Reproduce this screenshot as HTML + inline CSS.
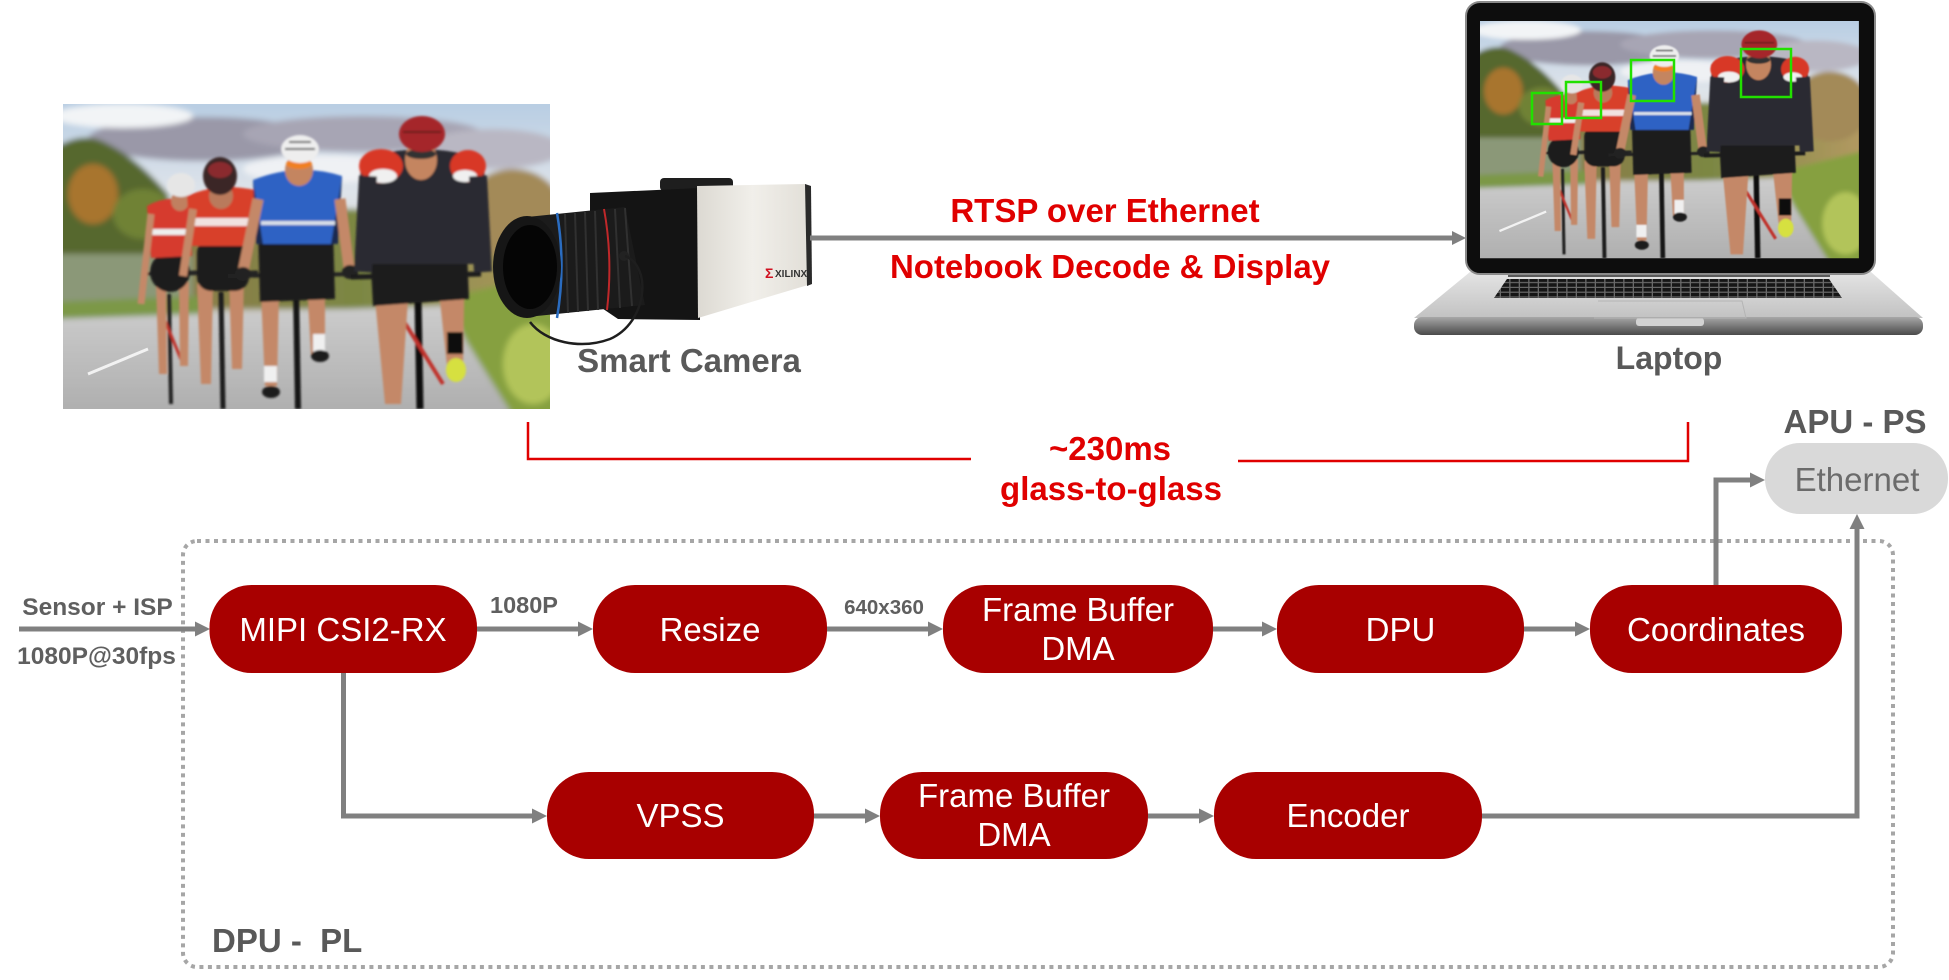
<!DOCTYPE html>
<html><head><meta charset="utf-8"><style>
html,body{margin:0;padding:0;background:#fff;}
svg{display:block;}
text{font-family:"Liberation Sans",Arial,sans-serif;}
</style></head><body>
<svg width="1949" height="980" viewBox="0 0 1949 980" xmlns="http://www.w3.org/2000/svg">
<defs>
  <linearGradient id="sky" x1="0" y1="0" x2="0" y2="1">
    <stop offset="0" stop-color="#b4cbe2"/>
    <stop offset="0.3" stop-color="#dfe4ea"/>
    <stop offset="0.6" stop-color="#c9c6b8"/>
    <stop offset="1" stop-color="#b0b0a8"/>
  </linearGradient>
  <linearGradient id="mid" x1="0" y1="0" x2="1" y2="0">
    <stop offset="0" stop-color="#5d6e35"/>
    <stop offset="0.3" stop-color="#8a7f48"/>
    <stop offset="0.6" stop-color="#7b8743"/>
    <stop offset="1" stop-color="#b59a62"/>
  </linearGradient>
  <linearGradient id="road" x1="0" y1="0" x2="0" y2="1">
    <stop offset="0" stop-color="#cdcdcd"/>
    <stop offset="1" stop-color="#ababab"/>
  </linearGradient>
  <linearGradient id="silver" x1="0" y1="0" x2="0" y2="1">
    <stop offset="0" stop-color="#e4e4e4"/>
    <stop offset="1" stop-color="#c2c2c2"/>
  </linearGradient>
  <linearGradient id="lip" x1="0" y1="0" x2="0" y2="1">
    <stop offset="0" stop-color="#a8a8a8"/>
    <stop offset="1" stop-color="#4a4a4a"/>
  </linearGradient>
  <linearGradient id="camwhite" x1="0" y1="0" x2="1" y2="0">
    <stop offset="0" stop-color="#dcd9d2"/>
    <stop offset="0.5" stop-color="#f1efea"/>
    <stop offset="1" stop-color="#e2dfd8"/>
  </linearGradient>
  <pattern id="keys" patternUnits="userSpaceOnUse" width="9.5" height="4.8">
    <rect x="0" y="0" width="8.2" height="3.6" fill="#161616"/>
  </pattern>
  <filter id="blur3" x="-10%" y="-10%" width="120%" height="120%"><feGaussianBlur stdDeviation="3"/></filter>
  <filter id="blur1"><feGaussianBlur stdDeviation="1"/></filter>
  <clipPath id="pclip"><rect x="0" y="0" width="487" height="305"/></clipPath>

  <g id="photo">
    <g clip-path="url(#pclip)">
      <g filter="url(#blur3)">
        <rect x="-10" y="-10" width="510" height="330" fill="url(#sky)"/>
        <ellipse cx="140" cy="35" rx="115" ry="22" fill="#9a98a8"/>
        <ellipse cx="300" cy="30" rx="120" ry="18" fill="#a7a5b4"/>
        <ellipse cx="430" cy="45" rx="70" ry="20" fill="#b9b7c3"/>
        <ellipse cx="60" cy="12" rx="70" ry="12" fill="#f2f4f6"/>
        <ellipse cx="260" cy="65" rx="80" ry="14" fill="#eff1f4"/>
        <rect x="-10" y="105" width="510" height="100" fill="url(#mid)"/>
        <path d="M-10 45 Q20 25 45 40 Q75 55 105 90 L120 170 L-10 180 Z" fill="#56672e"/>
        <ellipse cx="30" cy="90" rx="25" ry="30" fill="#a8742f"/>
        <ellipse cx="80" cy="110" rx="30" ry="25" fill="#6f8236"/>
        <ellipse cx="450" cy="110" rx="50" ry="45" fill="#a38a58"/>
        <rect x="-10" y="150" width="140" height="55" fill="#8b9878"/>
        <path d="M-10 198 L140 192 L140 212 L-10 225 Z" fill="#7c9846"/>
        <path d="M-10 215 L487 198 L500 320 L-10 320 Z" fill="url(#road)"/>
        <path d="M380 195 L500 165 L500 320 L455 320 L405 240 Z" fill="#86a040"/>
        <ellipse cx="470" cy="260" rx="30" ry="40" fill="#b2c45a"/>
      </g>
      <path d="M25 270 L85 245" stroke="#f2f2f2" stroke-width="3"/>
      <g filter="url(#blur1)">
        <!-- cyclist 1 -->
        <line x1="106" y1="190" x2="108" y2="300" stroke="#222" stroke-width="4"/>
        <line x1="95" y1="200" x2="120" y2="260" stroke="#c0302a" stroke-width="3"/>
        <line x1="80" y1="170" x2="135" y2="168" stroke="#222" stroke-width="3"/>
        <path d="M93 180 L103 182 L104 270 L96 270 Z" fill="#c48868"/>
        <path d="M116 178 L126 178 L125 262 L117 262 Z" fill="#c48868"/>
        <ellipse cx="107" cy="168" rx="20" ry="20" fill="#1c1c1c"/>
        <path d="M84 102 Q105 90 127 98 L129 152 L88 154 Z" fill="#d63a2e"/>
        <rect x="88" y="125" width="40" height="6" fill="#eee"/>
        <line x1="88" y1="110" x2="78" y2="200" stroke="#c48868" stroke-width="7"/>
        <ellipse cx="117" cy="97" rx="9" ry="10" fill="#c08060"/>
        <ellipse cx="118" cy="81" rx="14" ry="12" fill="#e6e6e6"/>
        <!-- cyclist 2 -->
        <line x1="158" y1="188" x2="160" y2="305" stroke="#1a1a1a" stroke-width="5"/>
        <line x1="120" y1="170" x2="195" y2="168" stroke="#222" stroke-width="3"/>
        <path d="M134 180 L150 180 L148 280 L138 280 Z" fill="#c48868"/>
        <path d="M166 175 L181 175 L179 265 L169 265 Z" fill="#c48868"/>
        <rect x="134" y="135" width="52" height="52" rx="14" fill="#1d1d1d"/>
        <path d="M124 92 Q155 78 192 86 L191 142 L127 142 Z" fill="#d8402c"/>
        <rect x="127" y="114" width="64" height="8" fill="#f1e2e0"/>
        <line x1="130" y1="105" x2="120" y2="172" stroke="#c48868" stroke-width="8"/>
        <ellipse cx="158" cy="92" rx="12" ry="13" fill="#b97a5c"/>
        <ellipse cx="157" cy="72" rx="17" ry="19" fill="#3a2528"/>
        <ellipse cx="157" cy="66" rx="12" ry="8" fill="#8a2a2e"/>
        <!-- cyclist 3 -->
        <line x1="233" y1="185" x2="235" y2="305" stroke="#151515" stroke-width="6"/>
        <line x1="165" y1="172" x2="295" y2="170" stroke="#222" stroke-width="4"/>
        <path d="M198 188 L216 188 L214 282 L202 282 Z" fill="#c48868"/>
        <rect x="201" y="262" width="13" height="16" fill="#f0f0f0"/>
        <path d="M244 180 L262 180 L262 250 L248 250 Z" fill="#c48868"/>
        <rect x="250" y="230" width="12" height="18" fill="#f0f0f0"/>
        <ellipse cx="257" cy="252" rx="9" ry="6" fill="#1a1a1a"/>
        <ellipse cx="208" cy="288" rx="9" ry="6" fill="#1a1a1a"/>
        <path d="M195 125 L270 125 L272 195 L197 198 Z" fill="#1b1b1d"/>
        <path d="M190 76 Q235 58 279 72 L273 140 L196 140 Z" fill="#2f62c4"/>
        <path d="M190 76 L200 140 L193 140 Z" fill="#1a2a50"/>
        <path d="M279 72 L268 140 L275 140 Z" fill="#1a2a50"/>
        <rect x="198" y="117" width="74" height="4" fill="#d9dfe8"/>
        <line x1="195" y1="95" x2="180" y2="168" stroke="#c48868" stroke-width="11"/>
        <line x1="277" y1="95" x2="286" y2="164" stroke="#c48868" stroke-width="11"/>
        <ellipse cx="180" cy="170" rx="8" ry="7" fill="#222"/>
        <ellipse cx="287" cy="168" rx="8" ry="7" fill="#222"/>
        <ellipse cx="236" cy="66" rx="14" ry="16" fill="#c48560"/>
        <ellipse cx="236" cy="60" rx="13" ry="5" fill="#f08020"/>
        <ellipse cx="237" cy="45" rx="19" ry="14" fill="#eeeeee"/>
        <path d="M222 45 L252 45 M226 38 L248 38" stroke="#555" stroke-width="2"/>
        <!-- cyclist 4 -->
        <line x1="355" y1="195" x2="357" y2="305" stroke="#111" stroke-width="7"/>
        <line x1="330" y1="200" x2="380" y2="280" stroke="#c0302a" stroke-width="4"/>
        <line x1="288" y1="173" x2="418" y2="170" stroke="#1a1a1a" stroke-width="5"/>
        <path d="M312 195 L345 195 L338 300 L322 300 Z" fill="#c48868"/>
        <path d="M372 150 L402 150 L400 262 L384 262 Z" fill="#c48868"/>
        <rect x="384" y="228" width="16" height="22" fill="#111"/>
        <ellipse cx="393" cy="266" rx="10" ry="12" fill="#d6e040"/>
        <path d="M305 105 L402 100 L406 195 L310 202 Z" fill="#1a1a1e"/>
        <path d="M297 56 Q355 35 421 55 L425 160 L300 160 Z" fill="#2a2a30"/>
        <ellipse cx="318" cy="62" rx="22" ry="17" fill="#d83828"/>
        <ellipse cx="320" cy="72" rx="14" ry="7" fill="#f0f0f0"/>
        <ellipse cx="405" cy="62" rx="18" ry="16" fill="#d83828"/>
        <ellipse cx="402" cy="72" rx="12" ry="6" fill="#f0f0f0"/>
        <line x1="305" y1="72" x2="300" y2="168" stroke="#2c2c33" stroke-width="18"/>
        <line x1="415" y1="72" x2="420" y2="168" stroke="#2c2c33" stroke-width="18"/>
        <ellipse cx="358" cy="56" rx="16" ry="20" fill="#c48560"/>
        <ellipse cx="358" cy="50" rx="15" ry="5" fill="#333"/>
        <ellipse cx="359" cy="30" rx="23" ry="18" fill="#a5282a"/>
        <path d="M340 28 L378 28" stroke="#6a1a1a" stroke-width="2"/>
      </g>
    </g>
  </g>
</defs>

<!-- ===== top-left photo ===== -->
<g transform="translate(63,104)"><use href="#photo"/></g>

<!-- ===== camera ===== -->
<g>
  <rect x="660" y="178" width="73" height="13" rx="4" fill="#1e1e1e"/>
  <path d="M590 193 L700 188 L700 320 L618 319 L590 300 Z" fill="#141414"/>
  <path d="M697 186 L806 184 L808 285 L698 318 Z" fill="url(#camwhite)"/>
  <path d="M805 184 L811 186 L812 284 L807 286 Z" fill="#2a2a2a"/>
  <path d="M527 217 L625 207 L645 305 L527 317 Z" fill="#1b1b1b"/>
  <g stroke="#303030" stroke-width="2">
    <line x1="565" y1="214" x2="568" y2="313"/>
    <line x1="575" y1="213" x2="578" y2="312"/>
    <line x1="585" y1="212" x2="588" y2="311"/>
    <line x1="595" y1="211" x2="598" y2="310"/>
    <line x1="615" y1="209" x2="620" y2="308"/>
    <line x1="625" y1="208" x2="632" y2="306"/>
  </g>
  <path d="M557 213 Q566 265 557 318" stroke="#2a6cc0" stroke-width="2.5" fill="none"/>
  <path d="M604 209 Q613 258 607 310" stroke="#c0282a" stroke-width="2" fill="none"/>
  <ellipse cx="527" cy="267" rx="34" ry="51" fill="#161616"/>
  <ellipse cx="530" cy="267" rx="27" ry="42" fill="#050505"/>
  <circle cx="624" cy="256" r="5" fill="#222"/>
  <path d="M625 256 C652 266 648 322 610 339 C580 350 545 342 530 322" stroke="#1e1e1e" stroke-width="2.5" fill="none"/>
  <text x="765" y="278" font-size="14" font-weight="bold" fill="#d01020">Σ</text>
  <text x="775" y="277" font-size="10" font-weight="bold" fill="#333">XILINX</text>
</g>

<!-- ===== top connection ===== -->
<line x1="810" y1="238" x2="1453" y2="238" stroke="#808080" stroke-width="5"/>
<polygon points="1466,238 1452,231 1452,245" fill="#808080"/>

<text x="689" y="372" font-size="33" font-weight="bold" fill="#595959" text-anchor="middle">Smart Camera</text>
<text x="1105" y="222" font-size="33" font-weight="bold" fill="#e00000" text-anchor="middle">RTSP over Ethernet</text>
<text x="1110" y="278" font-size="33" font-weight="bold" fill="#e00000" text-anchor="middle">Notebook Decode &amp; Display</text>

<!-- ===== laptop ===== -->
<g>
  <path d="M1470 272 L1871 272 L1923 318 L1414 318 Z" fill="url(#silver)"/>
  <rect x="1414" y="317" width="509" height="18" rx="8" fill="url(#lip)"/>
  <rect x="1636" y="318" width="68" height="8" rx="3" fill="#d2d2d2"/>
  <path d="M1507 279 L1829 279 L1842 298 L1494 298 Z" fill="#6a6a6a"/>
  <path d="M1507 279 L1829 279 L1842 298 L1494 298 Z" fill="url(#keys)"/>
  <path d="M1598 301 L1742 301 L1746 318 L1594 318" fill="none" stroke="#b4b4b4" stroke-width="1"/>
  <rect x="1508" y="270" width="322" height="7" fill="#5a5a5a"/>
  <rect x="1466" y="2" width="409" height="272" rx="14" fill="#0d0d0d" stroke="#8a8a8a" stroke-width="2"/>
  <g transform="translate(1480,21) scale(0.778)"><use href="#photo"/></g>
  <g fill="none" stroke="#22e000" stroke-width="2.5">
    <rect x="1532" y="93" width="30" height="31"/>
    <rect x="1566" y="82" width="35" height="36"/>
    <rect x="1631" y="60" width="43" height="41"/>
    <rect x="1741" y="49" width="50" height="48"/>
  </g>
</g>
<text x="1669" y="369" font-size="32" font-weight="bold" fill="#595959" text-anchor="middle">Laptop</text>

<!-- ===== latency bracket ===== -->
<path d="M528 422 V459 H971" fill="none" stroke="#e00000" stroke-width="2.5"/>
<path d="M1238 461 H1688 V422" fill="none" stroke="#e00000" stroke-width="2.5"/>
<text x="1110" y="460" font-size="33" font-weight="bold" fill="#e00000" text-anchor="middle">~230ms</text>
<text x="1111" y="500" font-size="33" font-weight="bold" fill="#e00000" text-anchor="middle">glass-to-glass</text>

<!-- ===== APU - PS ===== -->
<text x="1855" y="433" font-size="33" font-weight="bold" fill="#595959" text-anchor="middle">APU - PS</text>
<rect x="1765" y="443" width="183" height="71" rx="35" fill="#d9d9d9"/>
<text x="1857" y="491" font-size="33" fill="#6b6b6b" text-anchor="middle">Ethernet</text>

<!-- ===== dotted PL box ===== -->
<rect x="183" y="541" width="1710" height="426" rx="14" fill="none" stroke="#a6a6a6" stroke-width="4" stroke-dasharray="4 4.5"/>
<text x="212" y="952" font-size="33" font-weight="bold" fill="#595959" xml:space="preserve">DPU -  PL</text>

<!-- ===== connectors ===== -->
<g stroke="#808080" stroke-width="5" fill="none">
  <line x1="19" y1="629" x2="196" y2="629"/>
  <line x1="477" y1="629" x2="580" y2="629"/>
  <line x1="827" y1="629" x2="930" y2="629"/>
  <line x1="1213" y1="629" x2="1264" y2="629"/>
  <line x1="1524" y1="629" x2="1577" y2="629"/>
  <path d="M343.5 673 V816 H534"/>
  <line x1="814" y1="816" x2="867" y2="816"/>
  <line x1="1148" y1="816" x2="1201" y2="816"/>
  <path d="M1482 816 H1857 V528"/>
  <path d="M1716 585 V480 H1752"/>
</g>
<g fill="#808080">
  <polygon points="210,629 195,621.5 195,636.5"/>
  <polygon points="593,629 578,621.5 578,636.5"/>
  <polygon points="943,629 928,621.5 928,636.5"/>
  <polygon points="1277,629 1262,621.5 1262,636.5"/>
  <polygon points="1590,629 1575,621.5 1575,636.5"/>
  <polygon points="547,816 532,808.5 532,823.5"/>
  <polygon points="880,816 865,808.5 865,823.5"/>
  <polygon points="1214,816 1199,808.5 1199,823.5"/>
  <polygon points="1857,514 1849.5,529 1864.5,529"/>
  <polygon points="1765,480 1750,472.5 1750,487.5"/>
</g>

<!-- ===== edge labels ===== -->
<text x="97.5" y="615" font-size="24.5" font-weight="bold" fill="#5f5f5f" text-anchor="middle">Sensor + ISP</text>
<text x="96.5" y="664" font-size="24.5" font-weight="bold" fill="#5f5f5f" text-anchor="middle">1080P@30fps</text>
<text x="524" y="613" font-size="23.5" font-weight="bold" fill="#5f5f5f" text-anchor="middle">1080P</text>
<text x="884" y="614" font-size="20.5" font-weight="bold" fill="#5f5f5f" text-anchor="middle">640x360</text>

<!-- ===== boxes ===== -->
<g fill="#a80000">
  <rect x="209.5" y="585" width="267.5" height="88" rx="42"/>
  <rect x="593" y="585" width="234" height="88" rx="42"/>
  <rect x="943" y="585" width="270" height="88" rx="42"/>
  <rect x="1277" y="585" width="247" height="88" rx="42"/>
  <rect x="1590" y="585" width="252" height="88" rx="42"/>
  <rect x="547" y="772" width="267" height="87" rx="42"/>
  <rect x="880" y="772" width="268" height="87" rx="42"/>
  <rect x="1214" y="772" width="268" height="87" rx="42"/>
</g>
<g fill="#ffffff" font-size="33" text-anchor="middle">
  <text x="343" y="641">MIPI CSI2-RX</text>
  <text x="710" y="641">Resize</text>
  <text x="1078" y="621">Frame Buffer</text>
  <text x="1078" y="660">DMA</text>
  <text x="1400.5" y="641">DPU</text>
  <text x="1716" y="641">Coordinates</text>
  <text x="680.5" y="827">VPSS</text>
  <text x="1014" y="807">Frame Buffer</text>
  <text x="1014" y="846">DMA</text>
  <text x="1348" y="827">Encoder</text>
</g>
</svg>
</body></html>
